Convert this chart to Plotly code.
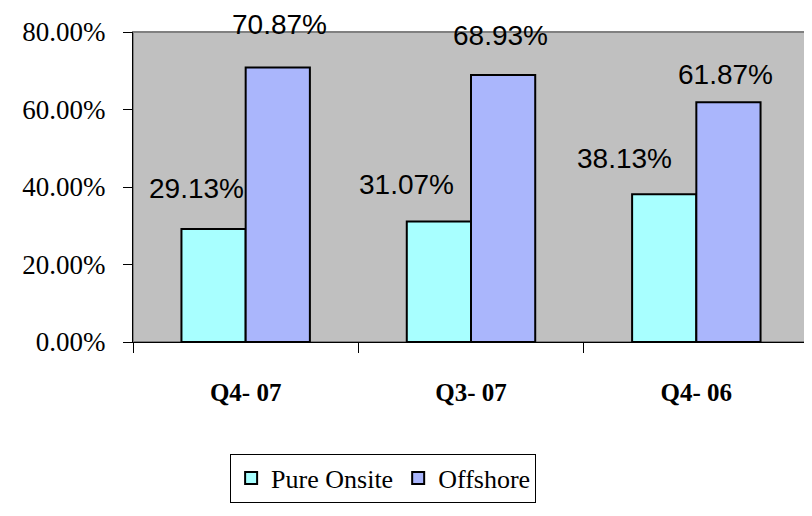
import plotly.graph_objects as go

quarters = ["Q4- 07", "Q3- 07", "Q4- 06"]
pure_onsite = [29.13, 31.07, 38.13]
offshore = [70.87, 68.93, 61.87]
y_ticks = [0, 20, 40, 60, 80]

# pixel nudges for the value labels (Excel placed them a bit irregularly)
onsite_dx = [-49, -65, -72]
onsite_dy = [41, 37, 36]
offshore_dx = [34, 29, 29]
offshore_dy = [43, 39, 28]

SERIF = "Liberation Serif"
SANS = "Liberation Sans"

fig = go.Figure()
fig.add_trace(go.Bar(
    x=quarters, y=pure_onsite, name="Pure Onsite",
    marker=dict(color="#a8ffff", line=dict(color="black", width=2)),
))
fig.add_trace(go.Bar(
    x=quarters, y=offshore, name="Offshore",
    marker=dict(color="#aab6fc", line=dict(color="black", width=2)),
))

annotations = []
for q, v, dx, dy in zip(quarters, pure_onsite, onsite_dx, onsite_dy):
    annotations.append(dict(x=q, y=v, xref="x", yref="y", text=f"{v:.2f}%",
                            showarrow=False, xshift=dx, yshift=dy, yanchor="middle"))
for q, v, dx, dy in zip(quarters, offshore, offshore_dx, offshore_dy):
    annotations.append(dict(x=q, y=v, xref="x", yref="y", text=f"{v:.2f}%",
                            showarrow=False, xshift=dx, yshift=dy, yanchor="middle"))

# page body has an 8px margin, so the margins are trimmed to compensate
fig.update_layout(
    width=812, height=516,
    margin=dict(l=125, r=11, t=24, b=182),
    paper_bgcolor="white",
    plot_bgcolor="#c0c0c0",
    barmode="group",
    bargap=0.43,
    bargroupgap=0,
    font=dict(family=SERIF, color="black"),
    annotations=annotations,
    legend=dict(
        orientation="h", x=0.37, xanchor="center", y=-0.36, yanchor="top",
        bordercolor="black", borderwidth=1, bgcolor="white",
        font=dict(size=26, family=SERIF),
        itemwidth=30, traceorder="normal",
    ),
    shapes=[dict(type="rect", xref="x domain", yref="y domain", x0=0, x1=1, y0=0, y1=1,
                 line=dict(color="#808080", width=2), layer="below")],
)
fig.update_annotations(font=dict(family=SANS, size=28, color="black"))

fig.update_yaxes(
    range=[0, 80], tickvals=y_ticks, ticktext=[f"{t:.2f}%" for t in y_ticks],
    showgrid=False, zeroline=False,
    showline=True, linecolor="black", linewidth=1,
    ticks="outside", ticklen=9, tickcolor="black",
    tickfont=dict(size=27, family=SERIF), ticklabelstandoff=12,
    automargin=False,
)
fig.update_xaxes(
    showline=True, linecolor="black", linewidth=1,
    ticks="outside", ticklen=10, tickcolor="black", tickson="boundaries",
    tickfont=dict(size=25, family=SERIF, weight="bold"),
    ticklabelstandoff=28, automargin=False,
)

fig.write_html("out.html")
